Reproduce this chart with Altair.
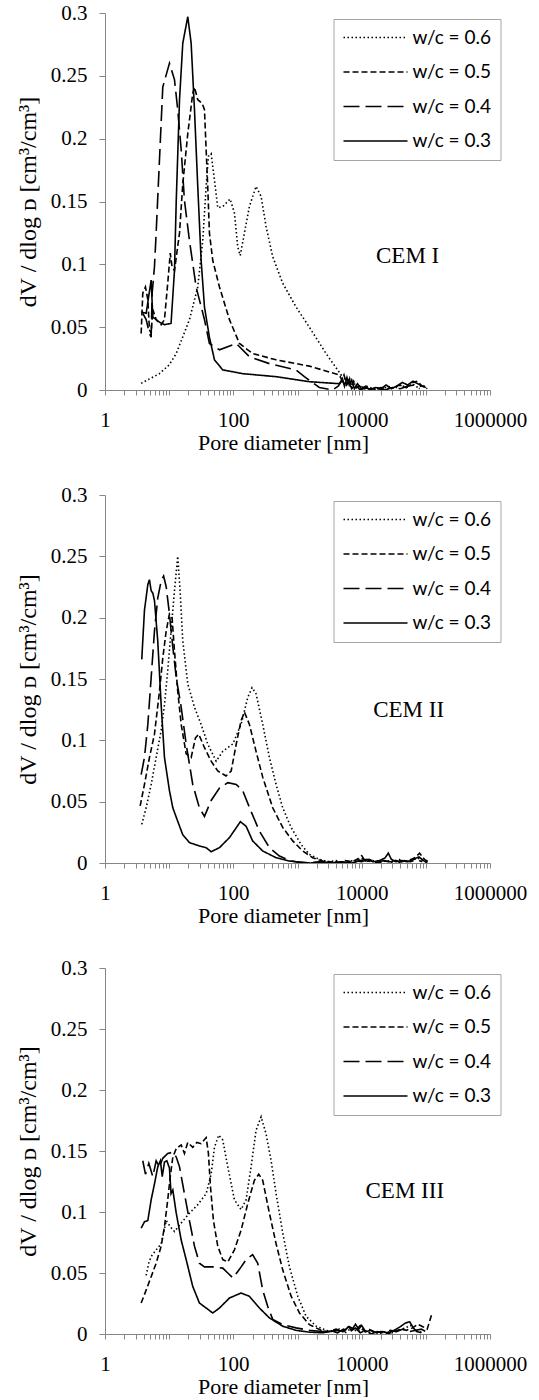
import altair as alt
import pandas as pd

SERIES = ["w/c = 0.6", "w/c = 0.5", "w/c = 0.4", "w/c = 0.3"]
PANELS = ["CEM I", "CEM II", "CEM III"]

# ---------------- CEM I ----------------
C1_W06_D = [3.66, 5.0, 7.06, 10.0, 12.9, 20.7, 27.9, 33.4, 37.7, 40.9, 45.1, 50.8, 57.2, 68.4, 89, 104, 117, 128, 149, 178, 226, 271, 324, 411, 588, 950, 1530, 2790, 4780,
            5200, 5600, 6000, 6500, 7000, 7600, 8300, 9200, 10500, 12000, 14000, 17000, 21000, 26000, 32000, 40000, 50000, 62000, 75000, 90000, 105000]
C1_W06_V = [0.0053, 0.009, 0.013, 0.020, 0.029, 0.056, 0.082, 0.119, 0.162, 0.186, 0.188, 0.167, 0.145, 0.146, 0.152, 0.141, 0.114, 0.107, 0.125, 0.146, 0.162, 0.154, 0.130, 0.106, 0.085, 0.066, 0.050, 0.029, 0.012,
            0.006, 0.010, 0.004, 0.009, 0.002, 0.006, 0.001, 0.004, 0.001, 0.003, 0.0005, 0.002, 0.001, 0.003, 0.001, 0.004, 0.002, 0.005, 0.002, 0.004, 0.001]

C1_W05_D = [3.66, 3.88, 4.27, 4.65, 4.93, 5.24, 5.56, 6.27, 7.5, 8.45, 9.5, 10.4, 11.1, 12.1, 14.5, 16.3, 19.5, 23.3, 24.8, 27.9, 32.7, 35.5, 37.7, 39.9, 42.4, 47.8, 60.8, 87, 124.5, 200, 464, 1530, 4500,
            4900, 5300, 5800, 6300, 6900, 7500, 8400, 9500, 11000, 13000, 16000, 20000, 25000, 31000, 39000, 49000, 61000, 74000, 88000, 100000]
C1_W05_V = [0.045, 0.077, 0.082, 0.072, 0.048, 0.045, 0.064, 0.056, 0.052, 0.056, 0.085, 0.109, 0.098, 0.095, 0.125, 0.164, 0.204, 0.236, 0.241, 0.231, 0.228, 0.223, 0.191, 0.162, 0.125, 0.103, 0.082, 0.056, 0.037, 0.029, 0.024, 0.019, 0.012,
            0.008, 0.012, 0.005, 0.010, 0.003, 0.007, 0.002, 0.004, 0.001, 0.002, 0.0005, 0.002, 0.001, 0.002, 0.004, 0.002, 0.006, 0.007, 0.003, 0.002]

C1_W04_D = [3.88, 4.38, 4.93, 5.24, 5.43, 5.9, 6.27, 7.06, 7.95, 10.1, 12.1, 13.6, 15.4, 17.3, 20.7, 26.3, 35.5, 42.4, 60.8, 111, 178, 365, 950, 1280, 2190,
            2800, 3500, 4300, 5000, 5600, 6200, 7000, 8000, 9500, 11500, 14000, 18000, 23000, 30000, 40000, 52000, 66000, 80000]
C1_W04_V = [0.061, 0.056, 0.045, 0.042, 0.077, 0.098, 0.125, 0.183, 0.241, 0.260, 0.247, 0.223, 0.191, 0.151, 0.119, 0.082, 0.056, 0.037, 0.032, 0.037, 0.0265, 0.021, 0.016, 0.0106, 0.002,
            0.001, 0.0, 0.003, 0.008, 0.002, 0.007, 0.001, 0.004, 0.0, 0.002, 0.0, 0.001, 0.0, 0.002, 0.001, 0.003, 0.004, 0.001]

C1_W03_D = [3.66, 4.38, 5.24, 5.56, 7.06, 8.45, 10.7, 12.1, 12.9, 14.5, 16.3, 19.5, 22, 24.8, 27.9, 31.5, 35.5, 42.4, 50.8, 68.4, 140, 464, 1530, 4500,
            5000, 5400, 5900, 6400, 7000, 7700, 8600, 9800, 11500, 13500, 16500, 20000, 24000, 29000, 35000, 43000, 52000, 63000, 75000, 88000, 100000]
C1_W03_V = [0.062, 0.061, 0.0875, 0.058, 0.054, 0.052, 0.053, 0.095, 0.151, 0.231, 0.276, 0.297, 0.276, 0.223, 0.162, 0.103, 0.066, 0.042, 0.024, 0.016, 0.013, 0.0106, 0.0066, 0.005,
            0.009, 0.003, 0.010, 0.004, 0.008, 0.001, 0.005, 0.001, 0.003, 0.0, 0.002, 0.001, 0.004, 0.001, 0.003, 0.006, 0.004, 0.007, 0.005, 0.003, 0.002]

# ---------------- CEM II ----------------
C2_W06_D = [3.74, 4.38, 5.24, 6.27, 7.5, 8.45, 9.5, 10.7, 12.1, 13.6, 14.8, 16.3, 19.5, 24.8, 31.5, 39.9, 54, 68.4, 98, 132, 168, 196, 226, 287, 365, 464, 588, 795, 1140, 1530, 2190,
            3000, 4000, 5000, 6500, 8000, 10000, 12000, 15000, 19000, 24000, 30000, 38000, 48000, 60000, 75000, 90000, 105000]
C2_W06_V = [0.0315, 0.045, 0.064, 0.086, 0.108, 0.129, 0.157, 0.189, 0.222, 0.250, 0.222, 0.181, 0.146, 0.127, 0.113, 0.097, 0.083, 0.091, 0.097, 0.113, 0.135, 0.143, 0.138, 0.113, 0.086, 0.064, 0.045, 0.029, 0.015, 0.007, 0.003,
            0.001, 0.002, 0.0, 0.002, 0.001, 0.004, 0.001, 0.002, 0.0, 0.002, 0.001, 0.003, 0.001, 0.002, 0.004, 0.002, 0.001]

C2_W05_D = [3.53, 4.12, 4.93, 5.9, 7.06, 7.95, 8.98, 10.1, 11.1, 12.1, 13.6, 15.4, 18.4, 22, 25.7, 28.9, 35.5, 45.1, 57.2, 77, 92.5, 111, 132, 149, 178, 226, 287, 411, 588, 842, 1205, 1725, 2470,
            3300, 4300, 5500, 7000, 8500, 10000, 11500, 14000, 17000, 21000, 26000, 33000, 42000, 53000, 66000, 80000, 95000, 110000]
C2_W05_V = [0.0465, 0.064, 0.086, 0.105, 0.140, 0.167, 0.189, 0.203, 0.200, 0.173, 0.140, 0.113, 0.089, 0.086, 0.102, 0.105, 0.094, 0.083, 0.075, 0.071, 0.075, 0.097, 0.116, 0.123, 0.113, 0.091, 0.070, 0.045, 0.029, 0.018, 0.0098, 0.0043, 0.0016,
            0.001, 0.0, 0.002, 0.001, 0.003, 0.006, 0.001, 0.002, 0.0, 0.002, 0.001, 0.002, 0.001, 0.002, 0.004, 0.008, 0.003, 0.001]

C2_W04_D = [3.66, 4.12, 4.65, 5.24, 5.9, 6.64, 7.5, 8.2, 9.0, 10.1, 11.4, 12.9, 15.4, 18.4, 23.3, 29.6, 35.5, 45.1, 60.8, 82, 111, 140, 189, 255, 365, 523, 795, 1070,
            1500, 2200, 3000, 4000, 5500, 7500, 10000, 13000, 17000, 22000, 28000, 36000, 46000, 58000, 72000, 88000]
C2_W04_V = [0.072, 0.086, 0.113, 0.151, 0.189, 0.216, 0.230, 0.234, 0.225, 0.203, 0.176, 0.151, 0.127, 0.097, 0.064, 0.045, 0.038, 0.051, 0.061, 0.0655, 0.064, 0.059, 0.042, 0.026, 0.0125, 0.0057, 0.0016, 0.0005,
            0.0, 0.001, 0.0, 0.001, 0.0, 0.002, 0.001, 0.003, 0.0, 0.002, 0.001, 0.0, 0.002, 0.001, 0.003, 0.001]

C2_W03_D = [3.74, 4.12, 4.65, 4.93, 5.24, 5.56, 5.9, 6.64, 7.5, 8.45, 10.1, 11.4, 13.6, 16.3, 20.7, 29.6, 37.7, 45.1, 60.8, 87, 129, 158, 200, 287, 464, 748, 1070,
            1600, 2400, 3500, 5000, 7000, 9500, 12000, 15000, 19000, 23000, 26000, 29000, 34000, 42000, 52000, 64000, 78000, 92000, 105000]
C2_W03_V = [0.166, 0.206, 0.227, 0.231, 0.222, 0.220, 0.214, 0.181, 0.129, 0.086, 0.059, 0.045, 0.034, 0.023, 0.0166, 0.0139, 0.0125, 0.0092, 0.0125, 0.0207, 0.0337, 0.030, 0.018, 0.0098, 0.0043, 0.0016, 0.0008,
            0.0, 0.001, 0.0, 0.001, 0.0, 0.002, 0.003, 0.001, 0.002, 0.004, 0.008, 0.003, 0.001, 0.002, 0.001, 0.003, 0.005, 0.002, 0.0]

# ---------------- CEM III ----------------
C3_W06_D = [4.38, 4.8, 5.24, 6.27, 7.5, 9.0, 10.4, 12.1, 15.4, 20.7, 27.9, 37.7, 45.1, 50.8, 59.2, 68.4, 82, 104, 132, 158, 189, 226, 271, 324, 388, 464, 588, 748, 1010, 1360, 1950, 2790,
            3500, 4500, 5500, 7000, 8500, 10000, 12500, 15500, 19000, 24000, 30000, 38000, 48000, 58000, 66000, 78000, 92000]
C3_W06_V = [0.048, 0.058, 0.0635, 0.069, 0.074, 0.093, 0.088, 0.084, 0.091, 0.099, 0.106, 0.115, 0.131, 0.153, 0.163, 0.159, 0.137, 0.110, 0.102, 0.110, 0.137, 0.167, 0.178, 0.164, 0.142, 0.115, 0.083, 0.055, 0.031, 0.0145, 0.0064, 0.003,
            0.002, 0.004, 0.001, 0.005, 0.002, 0.004, 0.001, 0.002, 0.0, 0.002, 0.001, 0.003, 0.005, 0.007, 0.004, 0.002, 0.001]

C3_W05_D = [3.66, 4.38, 5.24, 6.27, 7.5, 8.45, 9.5, 10.4, 11.4, 12.9, 15.4, 17.3, 19.5, 23.3, 27, 31.5, 37.7, 40.9, 44, 49, 57.2, 68.4, 82, 104, 132, 168, 213, 249, 287, 365, 464, 588, 795, 1070, 1530, 2330,
            3000, 4000, 5000, 6500, 8000, 9500, 11000, 13000, 16000, 20000, 25000, 32000, 40000, 50000, 62000, 75000, 90000, 105000, 125000]
C3_W05_V = [0.0254, 0.036, 0.047, 0.058, 0.072, 0.088, 0.110, 0.129, 0.145, 0.152, 0.155, 0.148, 0.157, 0.153, 0.157, 0.156, 0.161, 0.148, 0.121, 0.093, 0.072, 0.061, 0.059, 0.069, 0.085, 0.107, 0.126, 0.131, 0.126, 0.099, 0.074, 0.0526, 0.031, 0.0173, 0.0077, 0.003,
            0.002, 0.004, 0.002, 0.006, 0.003, 0.007, 0.002, 0.004, 0.001, 0.002, 0.0, 0.002, 0.004, 0.003, 0.005, 0.008, 0.006, 0.004, 0.017]

C3_W04_D = [3.88, 4.27, 4.82, 5.56, 6.27, 7.06, 7.95, 9.5, 11.4, 12.9, 14.5, 17.3, 20.7, 24.8, 29.6, 35.5, 47.8, 68.4, 82, 98, 124.5, 158, 200, 240, 287, 343, 411, 588, 950, 1530, 2470,
            3200, 4200, 5200, 6500, 8000, 9500, 11500, 14000, 17500, 22000, 28000, 35000, 44000, 55000, 70000, 85000, 100000, 115000]
C3_W04_V = [0.142, 0.131, 0.140, 0.129, 0.142, 0.137, 0.144, 0.148, 0.149, 0.145, 0.137, 0.115, 0.093, 0.072, 0.058, 0.055, 0.055, 0.054, 0.050, 0.046, 0.053, 0.061, 0.065, 0.058, 0.036, 0.0227, 0.012, 0.0077, 0.005, 0.003, 0.002,
            0.003, 0.001, 0.004, 0.002, 0.005, 0.001, 0.003, 0.0, 0.002, 0.001, 0.003, 0.002, 0.004, 0.002, 0.003, 0.004, 0.002, 0.003]

C3_W03_D = [3.66, 4.12, 4.65, 5.24, 5.9, 6.64, 7.3, 7.8, 8.45, 9.2, 10.1, 10.7, 11.4, 12.9, 15.4, 18.4, 23.3, 29.6, 37.7, 47.8, 60.8, 87, 132, 178, 255, 365, 588, 950, 1530, 2470,
            3200, 4200, 5300, 6200, 7000, 8000, 9000, 10000, 11500, 14000, 17000, 21000, 26000, 32000, 40000, 48000, 56000, 64000, 72000, 85000]
C3_W03_V = [0.0867, 0.092, 0.093, 0.110, 0.123, 0.137, 0.142, 0.129, 0.141, 0.142, 0.136, 0.115, 0.118, 0.099, 0.077, 0.061, 0.039, 0.0254, 0.0213, 0.0172, 0.0213, 0.0295, 0.0336, 0.0309, 0.0213, 0.0132, 0.0064, 0.003, 0.0015, 0.001,
            0.002, 0.003, 0.002, 0.006, 0.003, 0.008, 0.004, 0.007, 0.002, 0.003, 0.001, 0.002, 0.001, 0.003, 0.006, 0.009, 0.010, 0.005, 0.002, 0.001]

# panel annotation text (data coordinates)
LABEL_D = [52000, 54000, 47000]
LABEL_V = [0.107, 0.125, 0.117]

CURVES = {
    ("CEM I", "w/c = 0.6"): (C1_W06_D, C1_W06_V),
    ("CEM I", "w/c = 0.5"): (C1_W05_D, C1_W05_V),
    ("CEM I", "w/c = 0.4"): (C1_W04_D, C1_W04_V),
    ("CEM I", "w/c = 0.3"): (C1_W03_D, C1_W03_V),
    ("CEM II", "w/c = 0.6"): (C2_W06_D, C2_W06_V),
    ("CEM II", "w/c = 0.5"): (C2_W05_D, C2_W05_V),
    ("CEM II", "w/c = 0.4"): (C2_W04_D, C2_W04_V),
    ("CEM II", "w/c = 0.3"): (C2_W03_D, C2_W03_V),
    ("CEM III", "w/c = 0.6"): (C3_W06_D, C3_W06_V),
    ("CEM III", "w/c = 0.5"): (C3_W05_D, C3_W05_V),
    ("CEM III", "w/c = 0.4"): (C3_W04_D, C3_W04_V),
    ("CEM III", "w/c = 0.3"): (C3_W03_D, C3_W03_V),
}

rows = []
for (p, s), (ds, vs) in CURVES.items():
    for i, (d, v) in enumerate(zip(ds, vs)):
        rows.append({"panel": p, "series": s, "d": d, "v": v, "i": i})
df = pd.DataFrame(rows)

DASHES = [[1.5, 2.5], [6, 3], [16, 6], [1, 0]]
X_TICKS = [m * 10 ** e for e in range(6) for m in range(1, 10)] + [10 ** 6]
Y_TICKS = [0, 0.05, 0.1, 0.15, 0.2, 0.25, 0.3]
HEIGHTS = [377, 368, 366]
SERIF = "Liberation Serif"


def panel(k):
    name = PANELS[k]
    sub = df[df["panel"] == name]
    x = alt.X(
        "d:Q",
        scale=alt.Scale(type="log", domain=[1, 1000000], nice=False),
        axis=alt.Axis(
            values=X_TICKS,
            labelExpr="indexof([1, 100, 10000, 1000000], datum.value) >= 0 ? format(datum.value, 'd') : ''",
            labelOverlap=False,
            labelFlush=False,
            title="Pore diameter [nm]",
            titleX=178,
        ),
    )
    y = alt.Y(
        "v:Q",
        scale=alt.Scale(domain=[0, 0.3], nice=False),
        axis=alt.Axis(values=Y_TICKS, format="~g", title="dV / dlog ᴅ  [cm³/cm³]", titleFontSize=24),
    )
    lines = alt.Chart(sub).mark_line(color="black", strokeWidth=1.6, clip=True).encode(
        x=x,
        y=y,
        strokeDash=alt.StrokeDash(
            "series:N",
            scale=alt.Scale(domain=SERIES, range=DASHES),
            legend=alt.Legend(
                title=None,
                orient="none",
                legendX=228.5,
                legendY=6,
                symbolType="stroke",
                symbolSize=4096,
                symbolStrokeWidth=1.5,
                symbolStrokeColor="black",
                clipHeight=19,
                labelFont="Lato",
                labelFontSize=19,
                labelColor="black",
                labelOffset=4,
                strokeColor="#a6a6a6",
                fillColor="white",
                padding=9,
                rowPadding=14.5,
            ),
        ),
        order="i:Q",
    )
    lab_df = pd.DataFrame({"d": [LABEL_D[k]], "v": [LABEL_V[k]], "t": [name]})
    label = alt.Chart(lab_df).mark_text(
        font=SERIF, fontSize=23, align="center", baseline="middle", color="black"
    ).encode(x=x, y=y, text="t:N")
    return alt.layer(lines, label).properties(width=385, height=HEIGHTS[k])


chart = (
    alt.vconcat(panel(0), panel(1), panel(2), spacing=31)
    .resolve_scale(strokeDash="independent")
    .properties(padding={"top": 2, "left": 16, "right": 0, "bottom": 0})
    .configure_view(stroke=None)
    .configure_axis(
        grid=False,
        domainColor="#868686",
        tickColor="#868686",
        labelFont=SERIF,
        labelFontSize=21,
        labelColor="black",
        titleFont=SERIF,
        titleFontSize=22,
        titleFontWeight="normal",
        titleColor="black",
    )
    .configure_axisX(tickSize=5, labelPadding=14, titlePadding=2)
    .configure_axisY(tickSize=6, labelPadding=12, titlePadding=10)
)

chart.save("out.html", embed_options={"renderer": "svg", "actions": False})
